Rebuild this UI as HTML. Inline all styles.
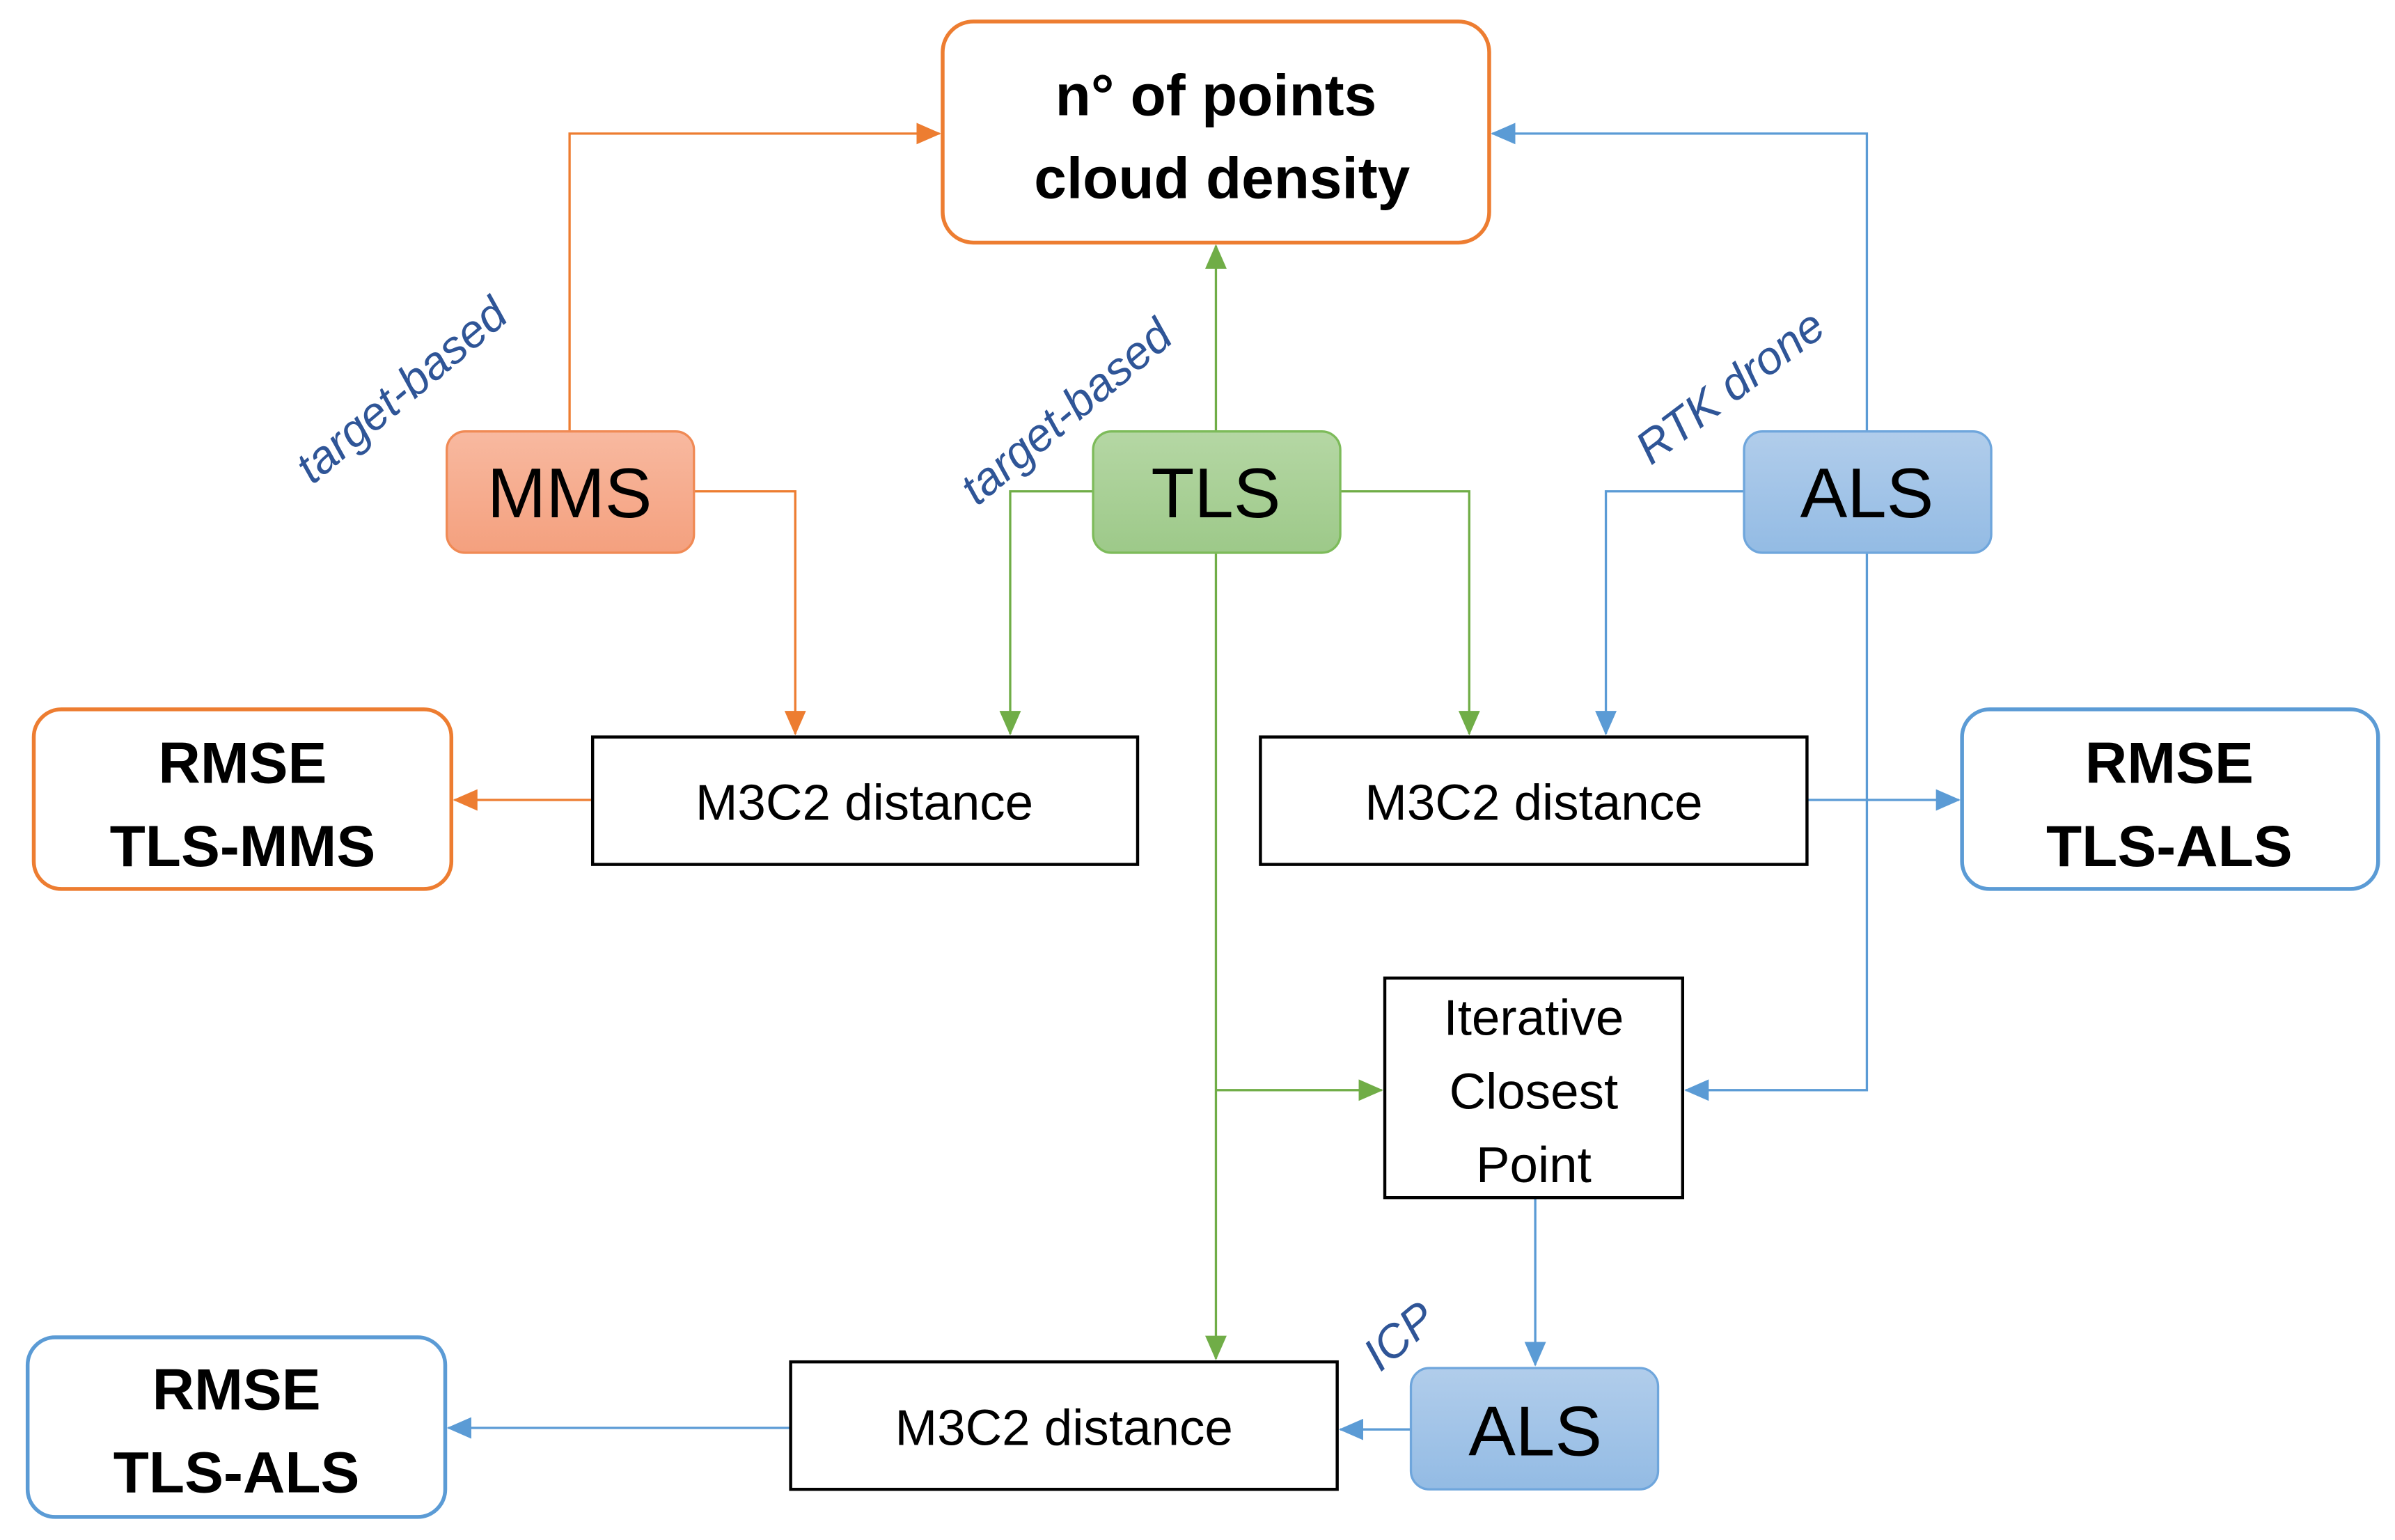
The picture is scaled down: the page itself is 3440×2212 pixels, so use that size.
<!DOCTYPE html>
<html><head><meta charset="utf-8"><style>html,body{margin:0;padding:0;background:#fff}svg{display:block}</style></head>
<body>
<svg width="3440" height="2212" viewBox="0 0 1560 1003" preserveAspectRatio="none" xmlns="http://www.w3.org/2000/svg" font-family="Liberation Sans, sans-serif">
<defs>
<linearGradient id="go" x1="0" y1="0" x2="0" y2="1"><stop offset="0" stop-color="#F8B9A0"/><stop offset="1" stop-color="#F4A07E"/></linearGradient>
<linearGradient id="gg" x1="0" y1="0" x2="0" y2="1"><stop offset="0" stop-color="#B5D7A4"/><stop offset="1" stop-color="#9DC989"/></linearGradient>
<linearGradient id="gb" x1="0" y1="0" x2="0" y2="1"><stop offset="0" stop-color="#B1CDEB"/><stop offset="1" stop-color="#93BBE4"/></linearGradient>
<marker id="ao" markerWidth="16" markerHeight="14" refX="15" refY="7" orient="auto" markerUnits="userSpaceOnUse"><path d="M0,0 L16,7 L0,14 z" fill="#ED7D31"/></marker>
<marker id="ag" markerWidth="16" markerHeight="14" refX="15" refY="7" orient="auto" markerUnits="userSpaceOnUse"><path d="M0,0 L16,7 L0,14 z" fill="#70AD47"/></marker>
<marker id="ab" markerWidth="16" markerHeight="14" refX="15" refY="7" orient="auto" markerUnits="userSpaceOnUse"><path d="M0,0 L16,7 L0,14 z" fill="#5B9BD5"/></marker>
</defs>
<g fill="none" stroke-width="1.5">
<path d="M371,281 V87 H612" stroke="#ED7D31" marker-end="url(#ao)"/>
<path d="M1216,281 V87 H972" stroke="#5B9BD5" marker-end="url(#ab)"/>
<path d="M792,281 V160" stroke="#70AD47" marker-end="url(#ag)"/>
<path d="M452,320 H518 V478" stroke="#ED7D31" marker-end="url(#ao)"/>
<path d="M712,320 H658 V478" stroke="#70AD47" marker-end="url(#ag)"/>
<path d="M873,320 H957 V478" stroke="#70AD47" marker-end="url(#ag)"/>
<path d="M1136,320 H1046 V478" stroke="#5B9BD5" marker-end="url(#ab)"/>
<path d="M386,521 H296" stroke="#ED7D31" marker-end="url(#ao)"/>
<path d="M1177,521 H1276" stroke="#5B9BD5" marker-end="url(#ab)"/>
<path d="M792,360 V885" stroke="#70AD47" marker-end="url(#ag)"/>
<path d="M792,710 H900" stroke="#70AD47" marker-end="url(#ag)"/>
<path d="M1216,360 V710 H1098" stroke="#5B9BD5" marker-end="url(#ab)"/>
<path d="M1000,780 V889" stroke="#5B9BD5" marker-end="url(#ab)"/>
<path d="M919,931 H873" stroke="#5B9BD5" marker-end="url(#ab)"/>
<path d="M515,930 H292" stroke="#5B9BD5" marker-end="url(#ab)"/>
</g>
<rect x="614" y="14" width="356" height="144" rx="20" fill="#fff" stroke="#ED7D31" stroke-width="2.5"/>
<rect x="291" y="281" width="161" height="79" rx="12" fill="url(#go)" stroke="#F08A55" stroke-width="1.5"/>
<rect x="712" y="281" width="161" height="79" rx="12" fill="url(#gg)" stroke="#7DBB5A" stroke-width="1.5"/>
<rect x="1136" y="281" width="161" height="79" rx="12" fill="url(#gb)" stroke="#6FA6DC" stroke-width="1.5"/>
<rect x="919" y="891" width="161" height="79" rx="12" fill="url(#gb)" stroke="#6FA6DC" stroke-width="1.5"/>
<rect x="386" y="480" width="355" height="83" fill="#fff" stroke="#000" stroke-width="2"/>
<rect x="821" y="480" width="356" height="83" fill="#fff" stroke="#000" stroke-width="2"/>
<rect x="515" y="887" width="356" height="83" fill="#fff" stroke="#000" stroke-width="2"/>
<rect x="902" y="637" width="194" height="143" fill="#fff" stroke="#000" stroke-width="2"/>
<rect x="22" y="462" width="272" height="117" rx="18" fill="#fff" stroke="#ED7D31" stroke-width="2.5"/>
<rect x="1278" y="462" width="271" height="117" rx="18" fill="#fff" stroke="#5B9BD5" stroke-width="2.5"/>
<rect x="18" y="871" width="272" height="117" rx="18" fill="#fff" stroke="#5B9BD5" stroke-width="2.5"/>
<g text-anchor="middle" fill="#000">
<g font-weight="bold" font-size="38">
<text x="792" y="75">n° of points</text>
<text x="796" y="129">cloud density</text>
<text x="158" y="510">RMSE</text>
<text x="158" y="564">TLS-MMS</text>
<text x="1413" y="510">RMSE</text>
<text x="1413" y="564">TLS-ALS</text>
<text x="154" y="918">RMSE</text>
<text x="154" y="972">TLS-ALS</text>
</g>
<g font-size="46">
<text x="371" y="337">MMS</text>
<text x="792" y="337">TLS</text>
<text x="1216" y="337">ALS</text>
<text x="1000" y="948">ALS</text>
</g>
<g font-size="33">
<text x="563" y="534">M3C2 distance</text>
<text x="999" y="534">M3C2 distance</text>
<text x="693" y="941">M3C2 distance</text>
<text x="999" y="674">Iterative</text>
<text x="999" y="722">Closest</text>
<text x="999" y="770">Point</text>
</g>
<g font-size="30" font-style="italic" fill="#2F5597">
<text transform="translate(268,262) rotate(-40)">target-based</text>
<text transform="translate(701,276) rotate(-40)">target-based</text>
<text transform="translate(1133,260) rotate(-37)">RTK drone</text>
<text transform="translate(918,878) rotate(-40)">ICP</text>
</g>
</g>
</svg>
</body></html>
